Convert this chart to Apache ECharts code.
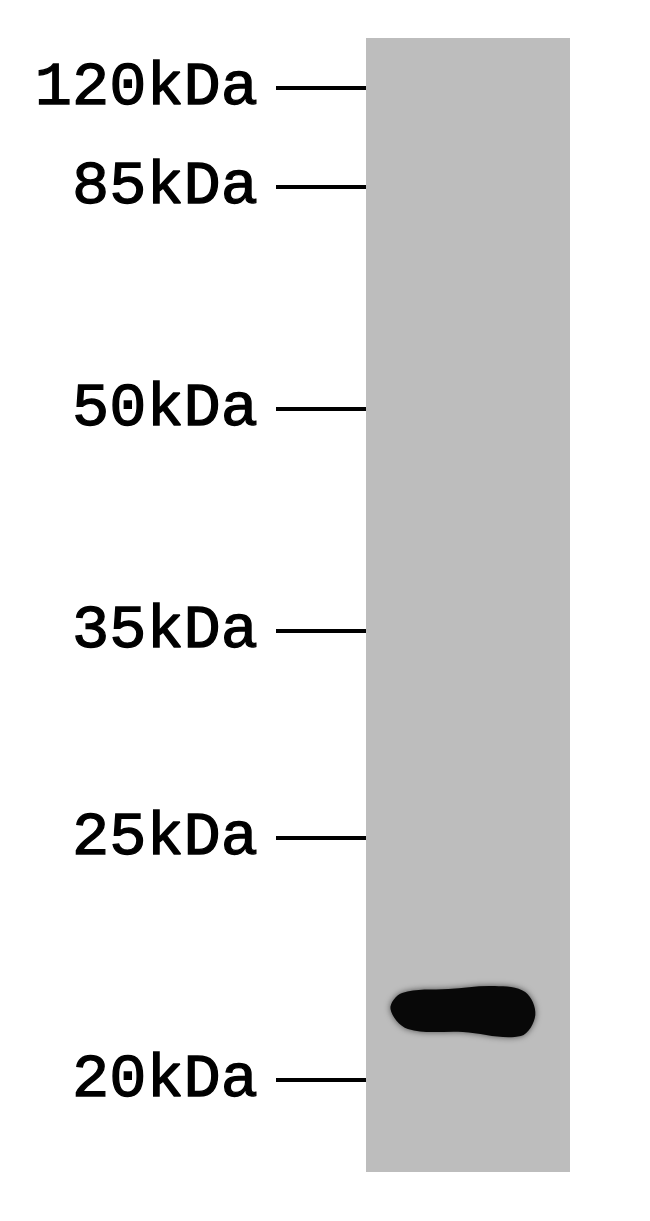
<!DOCTYPE html>
<html>
<head>
<meta charset="utf-8">
<script src="https://cdn.jsdelivr.net/npm/echarts@6/dist/echarts.min.js"></script>
<style>html,body{margin:0;padding:0;background:#fff;}#c{width:650px;height:1221px;}</style>
</head>
<body>
<div id="c"></div>
<script>
// Marker ladder: labels and migration distance from top of lane (px-equivalent units)
const markerLabels = ['120kDa', '85kDa', '50kDa', '35kDa', '25kDa', '20kDa'];
const markerMigration = [50, 149, 371, 593, 800, 1042];
// Lane length in migration units
const laneLength = 1134;
// Detected band: [lane x start (0-1), lane x end (0-1), migration, left thickness, right thickness]
const bands = [[0.12, 0.83, 973, 36, 50]];

const labelByValue = {};
markerMigration.forEach((v, i) => { labelByValue[v] = markerLabels[i]; });

const chart = echarts.init(document.getElementById('c'));
chart.setOption({
  backgroundColor: '#ffffff',
  animation: false,
  grid: { left: 366, right: 80, top: 38, height: 1134, show: true, backgroundColor: '#bdbdbd', borderWidth: 0 },
  xAxis: { type: 'value', min: 0, max: 1, show: false },
  yAxis: {
    type: 'value', inverse: true, min: 0, max: laneLength,
    splitLine: { show: false },
    axisLine: { show: false },
    axisTick: { show: true, customValues: markerMigration, length: 90, lineStyle: { color: '#000', width: 4 } },
    axisLabel: {
      customValues: markerMigration, margin: 108,
      formatter: v => labelByValue[v] || '',
      fontFamily: 'Liberation Mono', fontSize: 62, fontWeight: 'normal', color: '#000',
      textBorderColor: '#000', textBorderWidth: 1.3
    }
  },
  series: [{
    type: 'custom',
    data: bands,
    renderItem: function (params, api) {
      const p0 = api.coord([api.value(0), api.value(2)]);
      const p1 = api.coord([api.value(1), api.value(2)]);
      const hL = api.size([0, api.value(3)])[1];
      const hR = api.size([0, api.value(4)])[1];
      const w = p1[0] - p0[0];
      const cy = p0[1];
      const pts = [
        [p0[0], cy - 2],
        [p0[0] + 0.08 * w, cy - hL / 2],
        [p0[0] + 0.4 * w, cy - hL / 2 - 4],
        [p0[0] + 0.72 * w, cy - hR / 2],
        [p0[0] + 0.93 * w, cy - hR / 2 + 6],
        [p1[0], cy + 4],
        [p0[0] + 0.9 * w, cy + hR / 2],
        [p0[0] + 0.5 * w, cy + hR / 2 - 4],
        [p0[0] + 0.12 * w, cy + hL / 2],
      ];
      return {
        type: 'polygon',
        shape: { points: pts, smooth: 0.35 },
        style: { fill: '#080808', shadowBlur: 6, shadowColor: 'rgba(0,0,0,0.6)' }
      };
    }
  }]
});
</script>
</body>
</html>
